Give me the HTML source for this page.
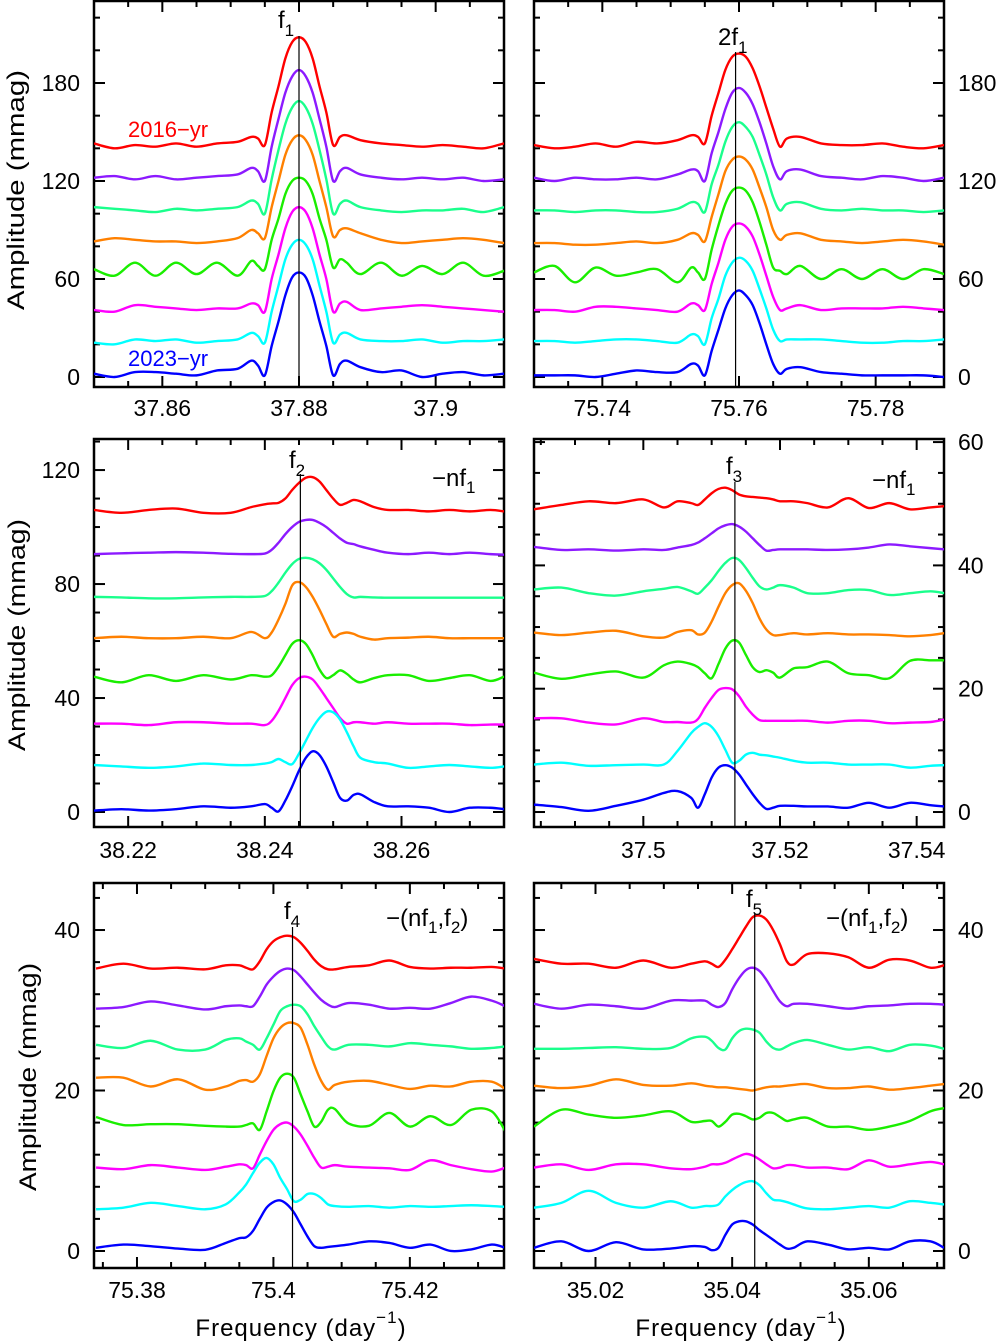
<!DOCTYPE html>
<html><head><meta charset="utf-8">
<style>
html,body{margin:0;padding:0;background:#fff;}
svg{display:block;font-family:"Liberation Sans",sans-serif;}
</style></head>
<body>
<svg id="chart" width="1002" height="1341" viewBox="0 0 1002 1341" xmlns="http://www.w3.org/2000/svg">
<g id="frames"></g>
<g id="curves"></g>
<g id="labels">
  <text transform="translate(24,190) rotate(-90)" text-anchor="middle" font-size="24" textLength="240" lengthAdjust="spacingAndGlyphs">Amplitude (mmag)</text>
  <text transform="translate(25,635) rotate(-90)" text-anchor="middle" font-size="24" textLength="232" lengthAdjust="spacingAndGlyphs">Amplitude (mmag)</text>
  <text transform="translate(36,1077) rotate(-90)" text-anchor="middle" font-size="24" textLength="228" lengthAdjust="spacingAndGlyphs">Amplitude (mmag)</text>
  <text x="301" y="1336" font-size="24" letter-spacing="1" text-anchor="middle">Frequency (day<tspan font-size="17" dy="-13">−1</tspan><tspan dy="13">)</tspan></text>
  <text x="741" y="1336" font-size="24" letter-spacing="1" text-anchor="middle">Frequency (day<tspan font-size="17" dy="-13">−1</tspan><tspan dy="13">)</tspan></text>

  <text x="278" y="28" font-size="24">f<tspan font-size="17" dy="8">1</tspan></text>
  <text x="718" y="45" font-size="24">2f<tspan font-size="17" dy="8">1</tspan></text>
  <text x="289" y="468" font-size="24">f<tspan font-size="17" dy="8">2</tspan></text>
  <text x="726" y="474" font-size="24">f<tspan font-size="17" dy="8">3</tspan></text>
  <text x="284" y="919" font-size="24">f<tspan font-size="17" dy="8">4</tspan></text>
  <text x="746" y="907" font-size="24">f<tspan font-size="17" dy="8">5</tspan></text>
  <text x="432" y="486" font-size="24">−nf<tspan font-size="17" dy="7">1</tspan></text>
  <text x="872" y="488" font-size="24">−nf<tspan font-size="17" dy="7">1</tspan></text>
  <text x="386" y="926" font-size="24">−(nf<tspan font-size="17" dy="7">1</tspan><tspan dy="-7">,f</tspan><tspan font-size="17" dy="7">2</tspan><tspan dy="-7">)</tspan></text>
  <text x="826" y="926" font-size="24">−(nf<tspan font-size="17" dy="7">1</tspan><tspan dy="-7">,f</tspan><tspan font-size="17" dy="7">2</tspan><tspan dy="-7">)</tspan></text>
  <text x="128" y="137" font-size="22" fill="#ff0000">2016−yr</text>
  <text x="128" y="366" font-size="22" fill="#0000ff">2023−yr</text>
</g>
</svg>
<script>
// ---------- Panel 1 (f1) ----------
const p1Freq = [37.850,37.853,37.856,37.859,37.862,37.865,37.868,37.871,37.873,37.874,37.875,37.876,37.877,37.878,37.879,37.880,37.881,37.882,37.883,37.884,37.885,37.886,37.887,37.889,37.892,37.895,37.898,37.901,37.904,37.907,37.910];
const p1Red = [143,140,142,141,143,141,143,144,147,146,142,162,178,195,205,208,205,195,178,162,142,147,148,145,143,142,141,142,141,140,143];
const p1Purple = [122,123,121,123,121,122,123,124,128,126,120,141,158,174,184,188,184,174,158,141,120,126,128,124,122,121,122,121,122,120,121];
const p1Spring = [104,103,102,101,103,102,103,104,108,106,100,121,139,155,165,169,165,155,139,121,100,106,108,104,102,101,102,102,103,101,104];
const p1Orange = [83,85,84,83,83,82,83,85,90,88,85,104,120,136,145,148,145,136,120,104,86,90,91,88,84,82,83,84,85,84,82];
const p1Green = [66,62,70,62,70,63,70,62,71,68,66,84,97,112,120,122,120,112,97,84,67,72,70,63,70,62,68,63,70,62,65];
const p1Magenta = [41,40,44,43,42,41,42,42,45,44,40,60,75,91,101,104,101,91,75,60,40,45,46,41,42,43,44,43,42,41,40];
const p1Cyan = [21,20,23,22,23,21,22,23,27,25,21,40,56,72,81,84,81,72,56,40,21,26,27,23,22,22,23,21,22,22,23];
const p1Blue = [2,0,3,3,2,1,4,5,10,7,1,19,34,50,61,64,61,50,34,19,1,8,10,6,3,4,0,2,3,1,2];

// ---------- Panel 2 (2f1) ----------
const p2Freq = [75.730,75.733,75.736,75.739,75.742,75.745,75.748,75.751,75.753,75.754,75.755,75.756,75.757,75.758,75.759,75.760,75.761,75.762,75.763,75.764,75.765,75.766,75.767,75.769,75.772,75.775,75.778,75.781,75.784,75.787,75.790];
const p2Red = [142,140,141,143,141,144,143,145,148,147,143,160,174,188,196,198,196,189,178,165,152,141,146,147,143,142,142,143,141,140,142];
const p2Purple = [122,120,122,121,121,122,121,124,127,126,120,137,150,164,174,177,174,167,156,143,129,121,126,127,123,122,121,123,122,120,122];
const p2Spring = [102,102,101,102,102,101,101,103,107,106,101,118,130,144,153,156,153,147,136,124,110,102,106,107,103,102,103,102,102,101,102];
const p2Orange = [82,82,81,81,82,83,82,84,88,87,83,98,112,126,133,135,133,127,116,104,90,84,87,88,84,83,82,83,84,83,81];
const p2Green = [64,68,58,67,62,64,66,58,67,64,60,78,93,106,114,116,114,107,95,81,67,65,63,68,60,66,60,66,60,66,63];
const p2Magenta = [41,41,40,43,43,42,41,40,45,44,41,57,70,84,92,94,92,86,75,62,49,41,42,44,41,42,42,42,43,42,41];
const p2Cyan = [22,22,21,22,23,23,22,21,26,25,20,36,48,62,70,73,71,65,54,42,29,22,23,23,23,22,21,21,22,22,23];
const p2Blue = [1,1,1,0,2,4,3,3,8,7,1,16,29,42,50,53,50,44,33,20,8,2,5,6,3,2,1,1,1,1,0];

// ---------- Panel 3 (f2) ----------
const p3Freq = [38.215,38.219,38.223,38.227,38.231,38.235,38.238,38.240,38.241,38.242,38.243,38.244,38.245,38.246,38.247,38.248,38.249,38.250,38.251,38.252,38.253,38.254,38.256,38.258,38.261,38.264,38.267,38.270,38.273,38.275];
const p3Red = [106,105,106,106.5,105,105,107,108,108.3,108.5,110,113,115.5,117.3,117.5,116,113,110,107.8,108.5,109.5,109,107,106,106,105.5,106,105.5,106,105.5];
const p3Purple = [90.5,90.8,91,91.2,91,90.6,90.5,90.7,92,94.5,97.5,100,101.8,102.5,102.5,101.5,100,98,96,94.5,94,93.2,92,91,90.5,91,90.5,91,90.5,90.3];
const p3Spring = [75.5,75.3,75,75,75.3,75.5,75.5,75.8,77.5,80.5,84,87,88.8,89.2,88.7,87.3,85,82,79,76.5,75.3,75.5,75.3,75.2,75.2,75.2,75.2,75.2,75.2,75.2];
const p3Orange = [61,61.5,61,61,61.5,61,63.2,61,63,67.5,73,79.5,80.7,79,75.5,71,66,61.5,62.5,63,62.5,61.5,60.5,61,61.2,61.5,61,61,61,61];
const p3Green = [47.5,45.5,48,46,48,46.5,48,47.5,48,51,55,59,60.3,59,55,50,47,48,49.7,48.5,46.5,45.5,47,48,48,46,47,48,46,47.5];
const p3Magenta = [31,31,30.5,31.5,31.5,31,31,30.5,32,35.5,40,44.5,47,47.5,46.5,43.5,40,36.5,33,31,31.5,31.5,31,31.5,31,31,31,30.5,30.7,30.7];
const p3Cyan = [16.5,16,15.5,16,17,16.5,16.5,17,17.5,18.6,17.5,16.8,20.5,25,29.5,33,35.2,35,32.5,28,23,19,17.5,17,15.5,16,16.5,16,15.5,16];
const p3Blue = [0.5,1,0.5,1,2,1.5,2,2.8,1.5,0.2,4,9,14.5,19,21.3,20,16,10.5,5,4,6,6.2,3.5,2,2,1.5,0,1.5,1.5,1];

// ---------- Panel 4 (f3) ----------
const p4Freq = [37.484,37.488,37.492,37.496,37.500,37.503,37.505,37.507,37.508,37.509,37.510,37.511,37.512,37.513,37.514,37.515,37.516,37.517,37.518,37.519,37.520,37.522,37.524,37.527,37.530,37.533,37.536,37.539,37.542,37.544];
const p4Red = [49.1,49.8,50.4,50.1,50.7,49.4,50.4,50.1,49.8,50.7,51.7,52.4,52.6,52.2,51.5,51.2,51.1,51,50.9,50.7,50.4,50.4,50.1,49.4,50.9,49.3,50.1,49.1,49.4,49.6];
const p4Purple = [43,42.5,42.6,42.4,42.6,42.5,42.9,43.3,43.7,44.4,45.2,46,46.5,46.7,46.3,45.5,44.4,43.3,42.4,42.5,42.6,42.6,42.6,42.5,42.6,42.9,43.4,43.1,42.8,42.6];
const p4Spring = [36.1,36.4,35.5,35.1,35.8,36.2,36.5,35.8,35.4,36.4,37.6,39.1,40.4,41.2,40.9,39.6,38,36.6,36.1,36.4,36.8,36.4,35.5,35.5,36,36,35.2,35.5,35.8,35.5];
const p4Orange = [29.1,28.7,29.1,29.4,28.5,28.3,29.2,29.5,28.8,29.1,30.9,33.3,35.5,36.8,37.1,35.9,33.9,31.4,29.6,28.7,28.7,29,28.8,29,28.8,28.8,28.7,28.5,28.7,29];
const p4Green = [22.6,21.6,22.3,22.8,21.8,23.8,24.4,24,23.5,22.5,21.7,24,26.5,27.8,27.5,25.5,23.5,22.7,23,22.6,21.8,23.3,23.5,24.4,22.5,22.2,21.7,24.5,24.6,24.6];
const p4Magenta = [15.2,15.2,14.5,14.2,15.2,14.6,14.6,14.5,15.1,16.9,18.5,19.8,20.1,19.9,18.8,17.1,15.8,14.9,14.8,14.8,14.8,14.8,14.8,14.5,14.8,14.8,14.4,14.5,14.6,15];
const p4Cyan = [7.7,8,7.5,7.6,7.7,7.7,9.9,12.8,13.8,14.4,13.8,12.3,10.1,8,8.3,9.3,9.6,9.3,9.2,9,8.8,8.3,8,8,7.7,7.7,7.7,7.2,7.5,7.6];
const p4Blue = [1.2,0.8,0.2,1,2,3.1,3.4,2.3,0.7,2.9,5.6,7.2,7.6,7.2,6.1,4.5,2.9,1.5,0.5,0.7,1,1,0.9,0.9,0.7,1.5,0.7,1.5,1.1,0.9];

// ---------- Panel 5 (f4) ----------
const p5Freq = [75.374,75.378,75.382,75.386,75.390,75.393,75.395,75.396,75.397,75.398,75.399,75.400,75.401,75.402,75.403,75.404,75.405,75.406,75.407,75.408,75.409,75.411,75.414,75.417,75.420,75.423,75.426,75.429,75.432,75.434];
const p5Red = [35.2,35.8,35.2,35.3,35.1,35.6,35.6,35.3,35.1,36.1,37.6,38.6,39.1,39.3,39.1,38.4,37.4,36.3,35.5,35.1,35.1,35.4,35.6,36.2,35.4,35.2,35.3,35.3,35.4,35.2];
const p5Purple = [30.2,30.4,31.1,30.6,30.1,30.5,30.6,30.5,30.5,31.7,33.2,34.2,34.9,35.2,35,34.2,33.2,32.2,31.3,30.7,30.4,30.9,30.7,30.2,30.3,30.2,30.9,31.7,31.2,30.5];
const p5Spring = [25.7,25.3,26.2,25.1,25.1,26.3,26.5,26.1,25.7,25.1,26.5,28.2,29.9,30.5,30.7,30.5,29.5,28,26.7,25.5,25.1,25.7,25.7,25.5,25.9,25.7,25.5,25.2,25.3,25.5];
const p5Orange = [21.6,21.6,20.5,21.4,20.1,20.5,21.2,21.3,21.1,22,24.3,26.5,27.8,28.4,28.4,27.8,25.7,23.2,21.2,20.1,20.7,21.1,21.2,20.7,20.2,20.6,20.5,21.1,21.1,20.2];
const p5Green = [16.7,15.7,15.8,15.8,15.6,15.5,15.5,15.7,15.9,15.1,17.4,19.9,21.6,22.1,21.6,19.5,17.4,15.5,16.1,17.6,17.7,15.9,15.6,17.2,15.5,16.8,15.7,17.6,17.4,14.9];
const p5Magenta = [10.4,10.2,10.7,10.4,10.1,10.5,10.8,10.7,10.3,12,13.7,15.1,15.8,16,15.5,14.5,13.1,11.6,10.4,10.5,10.7,10.5,10.4,10.3,10.1,11.3,10.7,10.2,9.9,10.4];
const p5Cyan = [5.2,5.4,6,5.6,5.2,5.8,7.3,8.3,9.7,11,11.6,10.8,9.1,7.7,6.2,6.4,7.1,7.1,6.6,5.8,5.6,5.5,5.6,5.4,5.6,5.5,5.6,5.7,5.6,5.5];
const p5Blue = [0.4,0.8,0.6,0.3,0.15,1,1.6,1.7,2.5,4,5.4,6.1,6.3,5.8,4.8,3.3,1.8,0.6,0.4,0.5,0.6,0.8,1.2,1,0.4,0.8,0,0.2,0.8,0.4];

// ---------- Panel 6 (f5) ----------
const p6Freq = [35.011,35.015,35.019,35.023,35.027,35.031,35.034,35.036,35.037,35.038,35.039,35.040,35.041,35.042,35.043,35.044,35.045,35.046,35.047,35.048,35.049,35.051,35.054,35.057,35.060,35.063,35.066,35.069,35.071];
const p6Red = [36.4,35.8,35.8,35.3,36.2,35.3,35.8,36.1,35.8,35.4,36.3,37.6,39,40.4,41.6,41.8,41.3,40,38.2,36.1,35.7,37,37.1,36.6,35.3,36.3,36.2,35.3,35.6];
const p6Purple = [30.8,30.2,30.7,30.5,30.2,31.2,31.2,31.2,30.7,30.4,30.9,32.6,34,35,35.3,34.9,33.8,32.4,31.1,30.5,30.8,30.8,30.5,30.2,30.5,30.6,30.8,30.8,30.7];
const p6Spring = [25.2,25.2,25.3,25.4,25.2,25.3,26.5,26.7,26.2,25.3,25.1,26.5,27.4,27.7,27.6,27.2,26.1,25.3,25.1,25.5,25.9,26.3,25.7,25.1,25.4,24.9,25.7,25.6,25.2];
const p6Orange = [20.6,20.3,20.6,21.4,20.7,20.6,20.9,20.6,20.5,20.4,20.4,20.3,20.2,20.1,20,20.2,20.4,20.5,20.5,20.6,20.7,20.8,20.3,20.3,20.5,20.1,20.3,20.6,20.8];
const p6Green = [15.5,17.6,17,16.6,16.9,17.4,16.1,16.2,16.2,15.5,16.1,17,17.1,16.8,16.4,16.6,17.2,17.2,16.7,16.2,16.4,16.6,15.5,15.5,15.1,15.5,16.2,17.4,17.8];
const p6Magenta = [10.4,10.8,10.1,10.8,10.8,10.3,10.2,10.5,10.8,10.8,11,11.4,11.8,12.1,11.9,11.4,10.8,10.3,10.4,10.7,10.7,10.4,10.4,10.2,11.3,10.5,10.8,11.1,10.8];
const p6Cyan = [5.4,6,7.5,6,5.4,6.2,5.4,5.6,5.6,5.8,6.8,7.6,8.2,8.6,8.7,8.2,7.2,6.4,6.3,6.1,5.8,5.3,5.2,5.4,5.6,5.4,6.2,6,5.8];
const p6Blue = [0.4,1.2,0,1.1,0.2,0.3,0.6,0.5,0.1,0.4,2,3.3,3.7,3.7,3.3,2.6,2,1.4,0.8,0.3,0.4,1.2,0.8,0.2,0.4,0.2,1.2,1.2,0.4];

// tick labels & marker frequencies
const p1XTicks = ["37.86","37.88","37.9"];
const p2XTicks = ["75.74","75.76","75.78"];
const p3XTicks = ["38.22","38.24","38.26"];
const p4XTicks = ["37.5","37.52","37.54"];
const p5XTicks = ["75.38","75.4","75.42"];
const p6XTicks = ["35.02","35.04","35.06"];
const topYTicks = [0,60,120,180];
const p3YTicks = [0,40,80,120];
const p4YTicks = [0,20,40,60];
const bottomYTicks = [0,20,40];
const peakFreqs = [37.88, 75.7595, 38.2452, 37.5134, 75.4028, 35.0433];

const seriesNames = ["red","purple","spring","orange","green","magenta","cyan","blue"];
const seriesColors = ["#ff0000","#8c1aff","#1aff8c","#ff8000","#1aee00","#ff00ff","#00ffff","#0000ff"];

const NS = "http://www.w3.org/2000/svg";
const panels = [
  {id:"f1", L:94, R:504, T:1, B:387, x0:37.85, x1:37.91, y0:-6.12, y1:230.2, xMaj:0.02, xMin:0.005, yMaj:60, yMin:20, xt:p1XTicks, yt:topYTicks, side:"left", lineTop:36, freq:p1Freq, data:[p1Red,p1Purple,p1Spring,p1Orange,p1Green,p1Magenta,p1Cyan,p1Blue], xlY:416},
  {id:"2f1", L:534, R:944, T:1, B:387, x0:75.73, x1:75.79, y0:-6.12, y1:230.2, xMaj:0.02, xMin:0.005, yMaj:60, yMin:20, xt:p2XTicks, yt:topYTicks, side:"right", lineTop:52, freq:p2Freq, data:[p2Red,p2Purple,p2Spring,p2Orange,p2Green,p2Magenta,p2Cyan,p2Blue], xlY:416},
  {id:"f2", L:94, R:504, T:439, B:827, x0:38.215, x1:38.275, y0:-5.26, y1:130.9, xMaj:0.02, xMin:0.005, yMaj:40, yMin:10, xt:p3XTicks, yt:p3YTicks, side:"left", lineTop:474, freq:p3Freq, data:[p3Red,p3Purple,p3Spring,p3Orange,p3Green,p3Magenta,p3Cyan,p3Blue], xlY:858},
  {id:"f3", L:534, R:944, T:439, B:827, x0:37.484, x1:37.544, y0:-2.43, y1:60.5, xMaj:0.02, xMin:0.005, yMaj:20, yMin:5, xt:p4XTicks, yt:p4YTicks, side:"right", lineTop:482, freq:p4Freq, data:[p4Red,p4Purple,p4Spring,p4Orange,p4Green,p4Magenta,p4Cyan,p4Blue], xlY:858},
  {id:"f4", L:94, R:504, T:883, B:1268, x0:75.3737, x1:75.4338, y0:-2.12, y1:45.86, xMaj:0.02, xMin:0.005, yMaj:20, yMin:4, xt:p5XTicks, yt:bottomYTicks, side:"left", lineTop:927, freq:p5Freq, data:[p5Red,p5Purple,p5Spring,p5Orange,p5Green,p5Magenta,p5Cyan,p5Blue], xlY:1298},
  {id:"f5", L:534, R:944, T:883, B:1268, x0:35.011, x1:35.071, y0:-2.12, y1:45.86, xMaj:0.02, xMin:0.005, yMaj:20, yMin:4, xt:p6XTicks, yt:bottomYTicks, side:"right", lineTop:914, freq:p6Freq, data:[p6Red,p6Purple,p6Spring,p6Orange,p6Green,p6Magenta,p6Cyan,p6Blue], xlY:1298}
];

function mk(tag, attrs, parent){
  const e = document.createElementNS(NS, tag);
  for (const k in attrs) e.setAttribute(k, attrs[k]);
  parent.appendChild(e);
  return e;
}
function smoothPath(pts){
  let d = "M" + pts[0][0].toFixed(2) + "," + pts[0][1].toFixed(2);
  for (let i=0;i<pts.length-1;i++){
    const p0 = pts[Math.max(0,i-1)], p1 = pts[i], p2 = pts[i+1], p3 = pts[Math.min(pts.length-1,i+2)];
    const c1x = p1[0] + (p2[0]-p0[0])/6, c1y = p1[1] + (p2[1]-p0[1])/6;
    const c2x = p2[0] - (p3[0]-p1[0])/6, c2y = p2[1] - (p3[1]-p1[1])/6;
    d += " C" + c1x.toFixed(2)+","+c1y.toFixed(2)+" "+c2x.toFixed(2)+","+c2y.toFixed(2)+" "+p2[0].toFixed(2)+","+p2[1].toFixed(2);
  }
  return d;
}

const framesG = document.getElementById("frames");
const curvesG = document.getElementById("curves");

panels.forEach((p, pi) => {
  const xs = v => p.L + (v - p.x0) / (p.x1 - p.x0) * (p.R - p.L);
  const ys = v => p.B - (v - p.y0) / (p.y1 - p.y0) * (p.B - p.T);
  const g = mk("g", {}, framesG);
  
  

  const clip = mk("clipPath", {id:"clip"+pi}, g);
  mk("rect", {x:p.L, y:p.T, width:p.R-p.L, height:p.B-p.T}, clip);

  const nStart = Math.ceil(p.x0 / p.xMin - 1e-6), nEnd = Math.floor(p.x1 / p.xMin + 1e-6);
  for (let n=nStart; n<=nEnd; n++){
    const v = n * p.xMin;
    const isMaj = Math.abs(v/p.xMaj - Math.round(v/p.xMaj)) < 1e-4;
    const len = isMaj ? 11 : 6;
    const x = xs(v);
    const t1 = mk("line", {x1:x, y1:p.B, x2:x, y2:p.B-len, stroke:"#000", "stroke-width":2}, g);
    
    
    const t2 = mk("line", {x1:x, y1:p.T, x2:x, y2:p.T+len, stroke:"#000", "stroke-width":2}, g);
    
    
  }
  p.xt.forEach(s => {
    const t = mk("text", {x:xs(parseFloat(s)), y:p.xlY, "text-anchor":"middle", "font-size":23}, g);
    
    
    t.textContent = s;
  });
  const mStart = Math.ceil(p.y0 / p.yMin), mEnd = Math.floor(p.y1 / p.yMin);
  for (let m=mStart; m<=mEnd; m++){
    const v = m * p.yMin;
    const isMaj = v % p.yMaj === 0;
    const len = isMaj ? 11 : 6;
    const y = ys(v);
    const a = mk("line", {x1:p.L, y1:y, x2:p.L+len, y2:y, stroke:"#000", "stroke-width":2}, g);
    
    
    const b = mk("line", {x1:p.R, y1:y, x2:p.R-len, y2:y, stroke:"#000", "stroke-width":2}, g);
    
    
  }
  p.yt.forEach(v => {
    const left = p.side === "left";
    const t = mk("text", {x: left ? p.L-14 : p.R+14, y: ys(v)+8, "text-anchor": left ? "end" : "start", "font-size":23}, g);
    
    
    t.textContent = String(v);
  });

  const cg = mk("g", {"clip-path":"url(#clip"+pi+")"}, curvesG);
  
  
  p.data.forEach((arr, si) => {
    const pts = arr.map((v, i) => [xs(p.freq[i]), ys(v)]);
    const path = mk("path", {d:smoothPath(pts), fill:"none", stroke:seriesColors[si], "stroke-width":2.4, "stroke-linejoin":"round"}, cg);
    
    
  });
  const mx = xs(peakFreqs[pi]);
  const ml = mk("line", {x1:mx, y1:p.lineTop, x2:mx, y2:p.B, stroke:"#000", "stroke-width":1.2}, curvesG);
  
  

  const fr = mk("rect", {x:p.L, y:p.T, width:p.R-p.L, height:p.B-p.T, fill:"none", stroke:"#000", "stroke-width":2.5}, framesG);
  
  
});
</script>
</body></html>
